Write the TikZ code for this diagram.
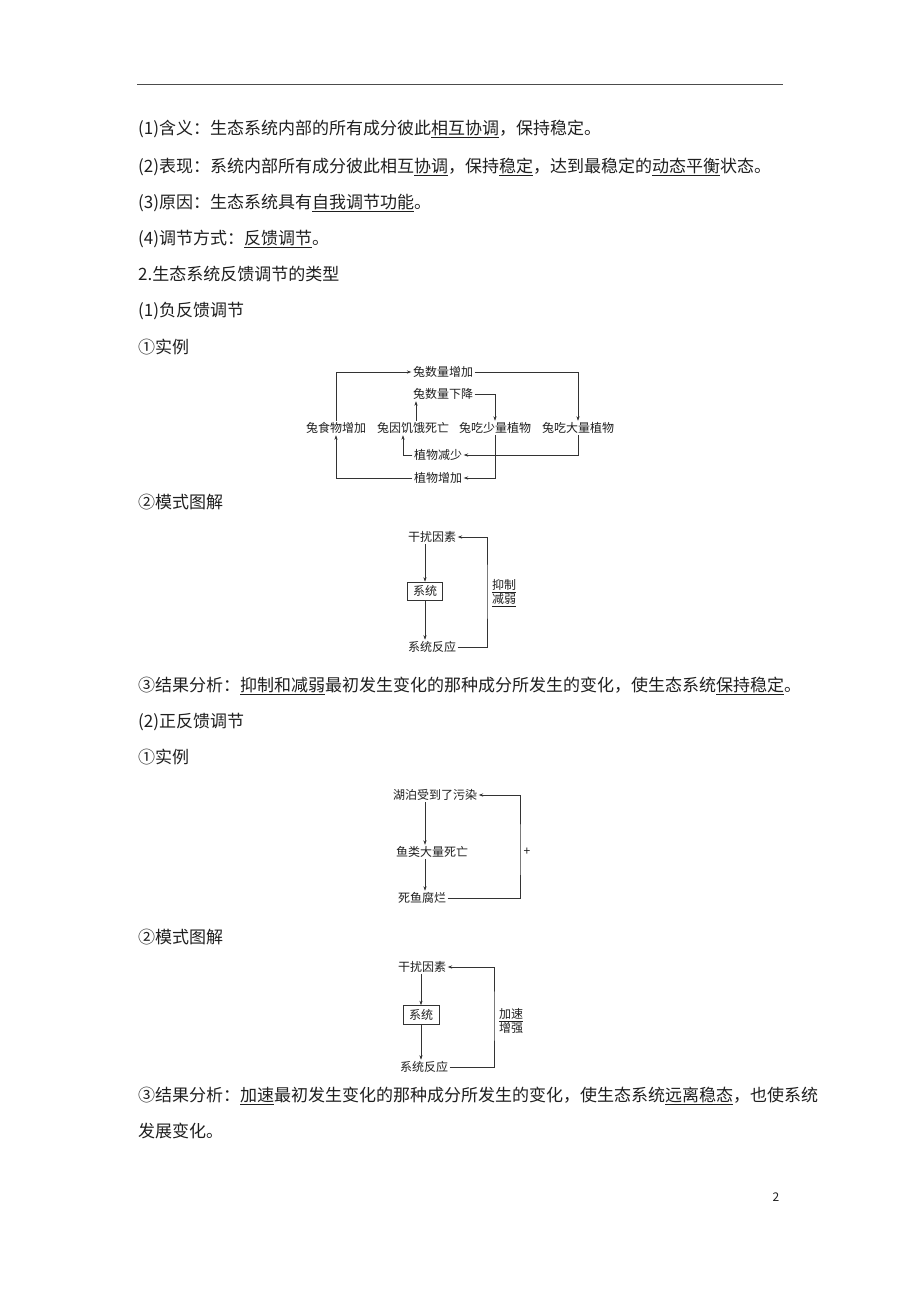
\documentclass[tikz,border=0pt]{standalone}
\usepackage{fontspec}
\setmainfont{Noto Sans CJK SC}
\usetikzlibrary{arrows.meta}
\begin{document}
\begin{tikzpicture}[x=1pt,y=-1pt,
  body/.style={anchor=base west,inner sep=0pt,font=\fontsize{17}{20}\selectfont,text=black!88},
  lbl/.style={inner sep=1.5pt,font=\fontsize{12}{14}\selectfont,text=black!88},
  arr/.style={draw=black!80,line width=0.6pt,-{Stealth[length=4.5pt,width=3.2pt]}},
  ln/.style={draw=black!80,line width=0.6pt},
  sbox/.style={lbl,draw=black!80,line width=0.6pt,minimum width=35pt,minimum height=18pt}]
\useasboundingbox (0,0) rectangle (920,1302);
\fill[white] (0,0) rectangle (920,1302);
\draw[black!70,line width=0.8pt] (137,84) -- (783,84);

% body text
\node[body] (t1) at (138,134) {(1)含义：生态系统内部的所有成分彼此\underline{相互协调}，保持稳定。};
\node[body] (t2) at (138,172) {(2)表现：系统内部所有成分彼此相互\underline{协调}，保持\underline{稳定}，达到最稳定的\underline{动态平衡}状态。};
\node[body] (t3) at (138,208) {(3)原因：生态系统具有\underline{自我调节功能}。};
\node[body] (t4) at (138,244) {(4)调节方式：\underline{反馈调节}。};
\node[body] (t5) at (138,280) {2.生态系统反馈调节的类型};
\node[body] (t6) at (138,316) {(1)负反馈调节};
\node[body] (t7) at (138,353) {①实例};
\node[body] (t8) at (138,508) {②模式图解};
\node[body] (t9) at (138,691) {③结果分析：\underline{抑制和减弱}最初发生变化的那种成分所发生的变化，使生态系统\underline{保持稳定}。};
\node[body] (t10) at (138,727) {(2)正反馈调节};
\node[body] (t11) at (138,763) {①实例};
\node[body] (t12) at (138,943) {②模式图解};
\node[body] (t13) at (138,1101) {③结果分析：\underline{加速}最初发生变化的那种成分所发生的变化，使生态系统\underline{远离稳态}，也使系统};
\node[body] (t14) at (138,1137) {发展变化。};
\node[lbl] (pg) at (776,1197) {2};

% diagram 1
\node[lbl] (inc) at (443,372) {兔数量增加};
\node[lbl] (dec) at (443,394) {兔数量下降};
\node[lbl] (food) at (336,428) {兔食物增加};
\node[lbl] (starve) at (413,428) {兔因饥饿死亡};
\node[lbl] (eatless) at (495,428) {兔吃少量植物};
\node[lbl] (eatmore) at (578,428) {兔吃大量植物};
\node[lbl] (pless) at (438,455) {植物减少};
\node[lbl] (pmore) at (438,478) {植物增加};
\draw[arr] (food.north) |- (inc.west);
\draw[arr] (inc.east) -| (eatmore.north);
\draw[arr] (dec.east) -| (eatless.north);
\draw[arr] ([xshift=3pt]starve.north) -- ([xshift=3pt]starve.north |- dec.south);
\draw[arr] (eatmore.south) |- (pless.east);
\draw[arr] (pless.west) -| ([xshift=-10pt]starve.south);
\draw[arr] (eatless.south) |- (pmore.east);
\draw[arr] (pmore.west) -| (food.south);

% diagram 2
\node[lbl] (d2a) at (432,537) {干扰因素};
\node[sbox] (d2box) at (425,591) {系统};
\node[lbl] (d2c) at (432,647) {系统反应};
\coordinate (d2r) at (487,591);
\draw[arr] (d2box.north |- d2a.south) -- (d2box.north);
\draw[arr] (d2box.south) -- (d2box.south |- d2c.north);
\draw[arr] (d2c.east) -| (d2r) |- (d2a.east);
\node[lbl,align=center] (d2l) at (504,593) {\underline{抑制}\\\underline{减弱}};

% diagram 3
\node[lbl] (d3a) at (435,795) {湖泊受到了污染};
\node[lbl] (d3b) at (432,852) {鱼类大量死亡};
\node[lbl] (d3c) at (422,898) {死鱼腐烂};
\coordinate (d3r) at (520,852);
\draw[arr] (425,0 |- d3a.south) -- (425,0 |- d3b.north);
\draw[arr] (425,0 |- d3b.south) -- (425,0 |- d3c.north);
\draw[arr] (d3c.east) -| (d3r) |- (d3a.east);
\node[lbl] (plus) at (527,852) {+};

% diagram 4
\node[lbl] (d4a) at (422,967) {干扰因素};
\node[sbox,minimum width=36pt,minimum height=19pt] (d4box) at (421,1015) {系统};
\node[lbl] (d4c) at (424,1067) {系统反应};
\coordinate (d4r) at (494,1015);
\draw[arr] (d4box.north |- d4a.south) -- (d4box.north);
\draw[arr] (d4box.south) -- (d4box.south |- d4c.north);
\draw[arr] (d4c.east) -| (d4r) |- (d4a.east);
\node[lbl,align=center] (d4l) at (511,1021) {\underline{加速}\\增强};
\end{tikzpicture}
\end{document}
